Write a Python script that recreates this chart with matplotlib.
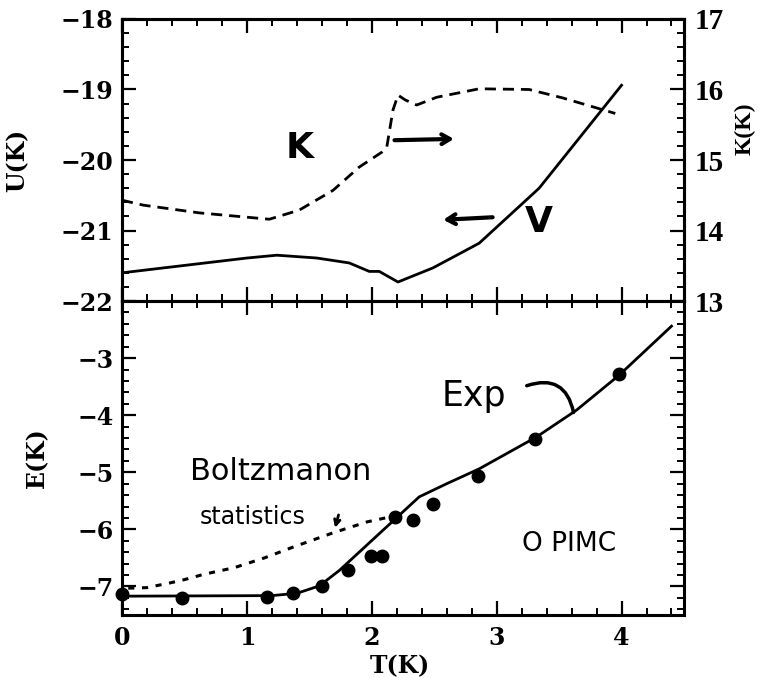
import numpy as np
import matplotlib.pyplot as plt
from matplotlib.ticker import MultipleLocator

# ---- data ----
# upper panel: potential energy U (left axis) and kinetic energy K (right axis)
T_U = [0.0, 1.0, 1.24, 1.56, 1.82, 1.98, 2.06, 2.21, 2.49, 2.86, 3.34, 4.0]
U = [-21.60, -21.39, -21.35, -21.39, -21.46, -21.58, -21.58, -21.73, -21.53, -21.18, -20.40, -18.94]

T_K = [0.0, 0.17, 0.62, 1.18, 1.42, 1.69, 1.90, 2.08, 2.12, 2.17, 2.21, 2.27, 2.36, 2.52, 2.86, 3.26, 3.53, 3.95]
K = [14.43, 14.36, 14.25, 14.16, 14.29, 14.57, 14.90, 15.11, 15.18, 15.71, 15.92, 15.85, 15.78, 15.89, 16.01, 16.00, 15.88, 15.66]

# lower panel: total energy E, experiment (solid), PIMC (dots), boltzmannons (dotted)
T_exp = [0.0, 1.2, 1.4, 1.58, 1.74, 2.38, 2.6, 2.86, 3.32, 3.64, 3.98, 4.4]
E_exp = [-7.17, -7.16, -7.12, -6.99, -6.72, -5.43, -5.20, -4.94, -4.38, -3.91, -3.30, -2.44]

T_pimc = [0.0, 0.48, 1.16, 1.37, 1.60, 1.81, 1.99, 2.08, 2.19, 2.33, 2.49, 2.85, 3.31, 3.98]
E_pimc = [-7.13, -7.20, -7.18, -7.11, -6.99, -6.72, -6.47, -6.47, -5.79, -5.84, -5.55, -5.06, -4.41, -3.27]

T_boltz = [0.05, 0.2, 0.38, 0.5, 0.65, 0.9, 1.14, 1.37, 1.69, 1.96, 2.15]
E_boltz = [-7.03, -7.02, -6.94, -6.88, -6.79, -6.67, -6.50, -6.31, -6.06, -5.87, -5.78]

tickfont = dict(family='DejaVu Serif', weight='bold', size=17)
labfont = dict(family='DejaVu Serif', weight='bold', fontsize=17)
hand = dict(family='DejaVu Sans', color='black')

fig = plt.figure(figsize=(7.61, 6.78), dpi=100)
ax1 = fig.add_axes([0.1603, 0.556, 0.7385, 0.416])
ax2 = fig.add_axes([0.1603, 0.0929, 0.7385, 0.4631])
ax1r = ax1.twinx()


def style(ax):
    for s in ax.spines.values():
        s.set_linewidth(2.2)
    ax.tick_params(which='major', direction='in', length=10, width=1.6)
    ax.tick_params(which='minor', direction='in', length=5, width=1.4)


for ax in (ax1, ax2, ax1r):
    style(ax)

for ax in (ax1, ax2):
    ax.set_xlim(0, 4.5)
    ax.xaxis.set_major_locator(MultipleLocator(1))
    ax.xaxis.set_minor_locator(MultipleLocator(0.2))
    ax.tick_params(which='both', top=True, bottom=True)

# upper panel
ax1.set_ylim(-22, -18)
ax1.yaxis.set_major_locator(MultipleLocator(1))
ax1.yaxis.set_minor_locator(MultipleLocator(0.2))
ax1.tick_params(which='both', right=False, labelbottom=False)
ax1.tick_params(axis='y', pad=6)
ax1r.set_ylim(13, 17)
ax1r.yaxis.set_major_locator(MultipleLocator(1))
ax1r.yaxis.set_minor_locator(MultipleLocator(0.2))
ax1r.tick_params(axis='y', pad=8)

ax1.plot(T_U, U, color='black', lw=2.0)
ax1r.plot(T_K, K, color='black', lw=2.0, dashes=(4, 2.5))

for lab in ax1.get_yticklabels():
    lab.set_fontproperties(tickfont)
for lab in ax1r.get_yticklabels():
    lab.set_fontfamily('Liberation Serif')
    lab.set_fontweight('bold')
    lab.set_fontsize(21)

ax1.set_ylabel('U(K)', **labfont)
ax1.yaxis.set_label_coords(-0.165, 0.5)
ax1r.set_ylabel('K(K)', family='Liberation Serif', weight='bold', fontsize=17)
ax1r.yaxis.set_label_coords(1.09, 0.61)

ax1.text(1.42, -19.83, 'K', fontsize=26, weight='bold', ha='center', va='center', **hand)
ax1.text(3.34, -20.88, 'V', fontsize=26, weight='bold', ha='center', va='center', **hand)
ax1.annotate('', xy=(2.68, -19.70), xytext=(2.16, -19.72),
             arrowprops=dict(arrowstyle='->,head_length=0.6,head_width=0.35', lw=3, color='black'))
ax1.annotate('', xy=(2.55, -20.85), xytext=(2.99, -20.81),
             arrowprops=dict(arrowstyle='->,head_length=0.6,head_width=0.35', lw=3, color='black'))

# lower panel
ax2.set_ylim(-7.5, -2)
ax2.yaxis.set_major_locator(MultipleLocator(1))
ax2.yaxis.set_minor_locator(MultipleLocator(0.2))
ax2.set_yticks([-7, -6, -5, -4, -3])
ax2.tick_params(which='both', right=True, labelright=False)
ax2.tick_params(axis='y', pad=6)
ax2.tick_params(axis='x', pad=8)

ax2.plot(T_exp, E_exp, color='black', lw=2.0)
ax2.plot(T_boltz, E_boltz, color='black', lw=2.2, dashes=(2, 2.5))
ax2.plot(T_pimc, E_pimc, 'o', color='black', ms=9, clip_on=False)

for lab in ax2.get_yticklabels() + ax2.get_xticklabels():
    lab.set_fontproperties(tickfont)

ax2.set_ylabel('E(K)', **labfont)
ax2.yaxis.set_label_coords(-0.13, 0.5)
ax2.set_xlabel('T(K)', **labfont)
ax2.xaxis.set_label_coords(0.495, -0.125)

ax2.text(2.82, -3.67, 'Exp', fontsize=25, ha='center', va='center', **hand)
ax2.annotate('', xy=(3.62, -4.0), xytext=(3.22, -3.50),
             arrowprops=dict(arrowstyle='-', lw=2.5, color='black',
                             connectionstyle='arc3,rad=-0.6'))
ax2.text(1.27, -4.98, 'Boltzmanon', fontsize=22, ha='center', va='center', **hand)
ax2.text(1.05, -5.79, 'statistics', fontsize=17, ha='center', va='center', **hand)
ax2.annotate('', xy=(1.70, -6.02), xytext=(1.74, -5.70),
             arrowprops=dict(arrowstyle='->', lw=2, color='black'))
ax2.text(3.58, -6.26, 'O PIMC', fontsize=19, ha='center', va='center', **hand)

fig.savefig('out.png', dpi=100)
